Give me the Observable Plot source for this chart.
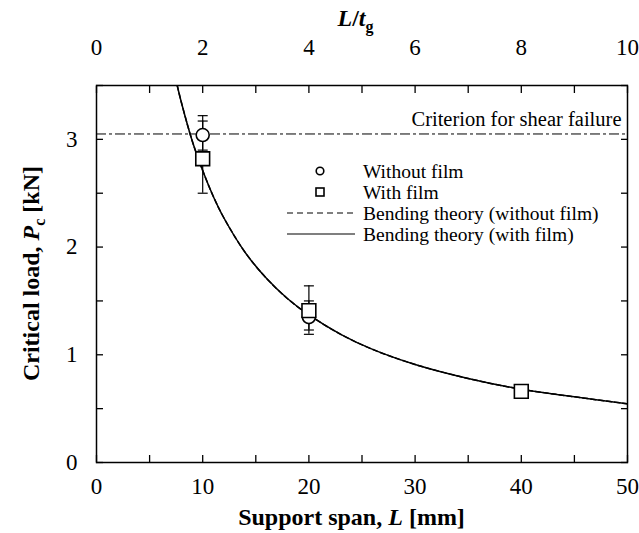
<!DOCTYPE html>
<html>
<head>
<meta charset="utf-8">
<script src="https://cdn.jsdelivr.net/npm/d3@7"></script>
<script src="https://cdn.jsdelivr.net/npm/@observablehq/plot@0.6"></script>
<style>
  html, body { margin: 0; padding: 0; background: #fff; }
  #chart svg { display: block; }
</style>
</head>
<body>
<div id="chart"></div>
<script>
// ---- data ----
const spans = [10, 20, 40];                       // support span L [mm]
const withoutFilm = [3.04, 1.35, 0.66];           // circles
const withoutFilmLo = [2.90, 1.23, 0.61];
const withoutFilmHi = [3.22, 1.50, 0.71];
const withFilm = [2.82, 1.41, 0.66];              // squares
const withFilmLo = [2.50, 1.19, 0.60];
const withFilmHi = [3.17, 1.64, 0.72];
const theoryL = [7.6, 8, 9, 10, 11, 12, 14, 16, 18, 20, 23, 26, 30, 35, 40, 45, 50];
const theoryNoFilm = [3.50, 3.34, 2.99, 2.71, 2.47, 2.27, 1.95, 1.71, 1.52, 1.37, 1.19, 1.05, 0.91, 0.78, 0.68, 0.61, 0.545];
const theoryFilm = [3.50, 3.34, 2.99, 2.71, 2.47, 2.27, 1.95, 1.71, 1.52, 1.37, 1.19, 1.05, 0.91, 0.78, 0.68, 0.61, 0.545];
const shearCriterion = 3.05;
const xMajor = [0, 10, 20, 30, 40, 50];
const xMinor = [0, 5, 10, 15, 20, 25, 30, 35, 40, 45, 50];
const yMajor = [0, 1, 2, 3];
const yMinor = [0, 0.5, 1, 1.5, 2, 2.5, 3, 3.5];
const tg = 5; // L/tg top axis: mm per unit
const topLabels = [0, 2, 4, 6, 8, 10];

const pts = (ys, lo, hi) => spans.map((L, i) => ({L, P: ys[i], lo: lo[i], hi: hi[i]}));
const noFilm = pts(withoutFilm, withoutFilmLo, withoutFilmHi);
const film = pts(withFilm, withFilmLo, withFilmHi);
const curveA = theoryL.map((L, i) => ({L, P: theoryNoFilm[i]}));
const curveB = theoryL.map((L, i) => ({L, P: theoryFilm[i]}));

const cap = { draw(ctx, size) { const w = Math.sqrt(size / Math.PI); ctx.moveTo(-w, 0); ctx.lineTo(w, 0); } };
const FONT = "'Liberation Serif', 'Times New Roman', serif";

const W = 639, H = 533;
const mL = 96, mR = 12, mT = 85, mB = 71;

const errMarks = (data) => [
  Plot.ruleX(data, {x: "L", y1: "lo", y2: "hi", stroke: "#000", strokeWidth: 1.2}),
  Plot.dot(data, {x: "L", y: "lo", symbol: cap, r: 5, stroke: "#000", strokeWidth: 1.2}),
  Plot.dot(data, {x: "L", y: "hi", symbol: cap, r: 5, stroke: "#000", strokeWidth: 1.2})
];

const chart = Plot.plot({
  width: W, height: H,
  marginLeft: mL, marginRight: mR, marginTop: mT, marginBottom: mB,
  style: {fontFamily: FONT, fontSize: "23px", color: "#000", background: "#fff"},
  x: {domain: [0, 50], label: null},
  y: {domain: [0, 3.5], label: null},
  marks: [
    // inward minor ticks
    Plot.axisX({anchor: "bottom", ticks: xMinor, tickSize: -7, tickFormat: () => "", strokeWidth: 1.3}),
    Plot.axisX({anchor: "top", ticks: xMinor, tickSize: -7, tickFormat: () => "", strokeWidth: 1.3}),
    Plot.axisY({anchor: "left", ticks: yMinor, tickSize: -7, tickFormat: () => "", strokeWidth: 1.3}),
    Plot.axisY({anchor: "right", ticks: yMinor, tickSize: -7, tickFormat: () => "", strokeWidth: 1.3}),
    // labels
    Plot.axisX({anchor: "bottom", ticks: xMajor, tickSize: 0, tickPadding: 15, tickFormat: d => String(d)}),
    Plot.axisX({anchor: "top", ticks: topLabels.map(v => v * tg), tickSize: 0, tickPadding: 31, tickFormat: d => String(d / tg)}),
    Plot.axisY({anchor: "left", ticks: yMajor, tickSize: 0, tickPadding: 19, tickFormat: d => String(d)}),
    // shear criterion
    Plot.ruleY([shearCriterion], {stroke: "#000", strokeWidth: 1, strokeDasharray: "10,3,3,3"}),
    Plot.text([shearCriterion], {x: () => 50, y: d => d, text: () => "Criterion for shear failure",
      textAnchor: "end", dx: -6, dy: -15}),
    // theory curves
    Plot.line(curveA, {x: "L", y: "P", curve: "catmull-rom", stroke: "#000", strokeWidth: 1.5, strokeDasharray: "5,3", clip: true}),
    Plot.line(curveB, {x: "L", y: "P", curve: "catmull-rom", stroke: "#000", strokeWidth: 1.5, clip: true}),
    // error bars
    ...errMarks(noFilm),
    ...errMarks(film),
    // markers (squares drawn on top, as in the reference)
    Plot.dot(noFilm, {x: "L", y: "P", symbol: "circle", r: 6.5, fill: "#fff", stroke: "#000", strokeWidth: 1.6}),
    Plot.dot(film, {x: "L", y: "P", symbol: "square", r: 7.8, fill: "#fff", stroke: "#000", strokeWidth: 1.6}),
    Plot.frame({stroke: "#000", strokeWidth: 1.5})
  ]
});

document.getElementById("chart").appendChild(chart);

const svg = d3.select(chart);
// enforce font sizes
svg.selectAll("g[aria-label$='tick label'] text").style("font-size", "23px").style("font-family", FONT);
svg.selectAll("g[aria-label='text'] text").style("font-size", "20.5px").style("font-family", FONT);

// axis titles & legend
const g = svg.append("g").attr("fill", "#000").style("font-family", FONT);

const t1 = g.append("text").attr("x", mL + (W - mL - mR) / 2 - 10).attr("y", 525)
  .attr("text-anchor", "middle").style("font-size", "24px").attr("font-weight", "bold");
t1.append("tspan").text("Support span, ");
t1.append("tspan").attr("font-style", "italic").text("L");
t1.append("tspan").text(" [mm]");

const t2 = g.append("text").attr("x", mL + (W - mL - mR) / 2 - 6).attr("y", 26)
  .attr("text-anchor", "middle").style("font-size", "24px").attr("font-weight", "bold");
t2.append("tspan").attr("font-style", "italic").text("L");
t2.append("tspan").text("/");
t2.append("tspan").attr("font-style", "italic").text("t");
t2.append("tspan").style("font-size", "16px").attr("dy", 6).text("g");

const cy = mT + (H - mT - mB) / 2;
const t3 = g.append("text").attr("transform", `translate(39,${cy}) rotate(-90)`)
  .attr("text-anchor", "middle").style("font-size", "24px").attr("font-weight", "bold");
t3.append("tspan").text("Critical load, ");
t3.append("tspan").attr("font-style", "italic").text("P");
t3.append("tspan").style("font-size", "16px").attr("dy", 6).text("c");
t3.append("tspan").attr("dy", -6).text(" [kN]");

// legend
const lg = svg.append("g").style("font-family", FONT).style("font-size", "19.5px");
const rows = [
  {y: 171, kind: "circle", label: "Without film"},
  {y: 192, kind: "square", label: "With film"},
  {y: 213, kind: "dash", label: "Bending theory (without film)"},
  {y: 234, kind: "line", label: "Bending theory (with film)"}
];
rows.forEach(r => {
  if (r.kind === "circle") lg.append("circle").attr("cx", 320).attr("cy", r.y).attr("r", 3.8).attr("fill", "#fff").attr("stroke", "#000").attr("stroke-width", 1.6);
  if (r.kind === "square") lg.append("rect").attr("x", 316).attr("y", r.y - 4).attr("width", 8).attr("height", 8).attr("fill", "#fff").attr("stroke", "#000").attr("stroke-width", 1.6);
  if (r.kind === "dash") lg.append("line").attr("x1", 287).attr("x2", 355).attr("y1", r.y).attr("y2", r.y).attr("stroke", "#000").attr("stroke-width", 1.2).attr("stroke-dasharray", "6,4");
  if (r.kind === "line") lg.append("line").attr("x1", 287).attr("x2", 355).attr("y1", r.y).attr("y2", r.y).attr("stroke", "#000").attr("stroke-width", 1.2);
  lg.append("text").attr("x", 363).attr("y", r.y).attr("dy", "0.35em").attr("text-anchor", "start").attr("fill", "#000").text(r.label);
});
</script>
</body>
</html>
